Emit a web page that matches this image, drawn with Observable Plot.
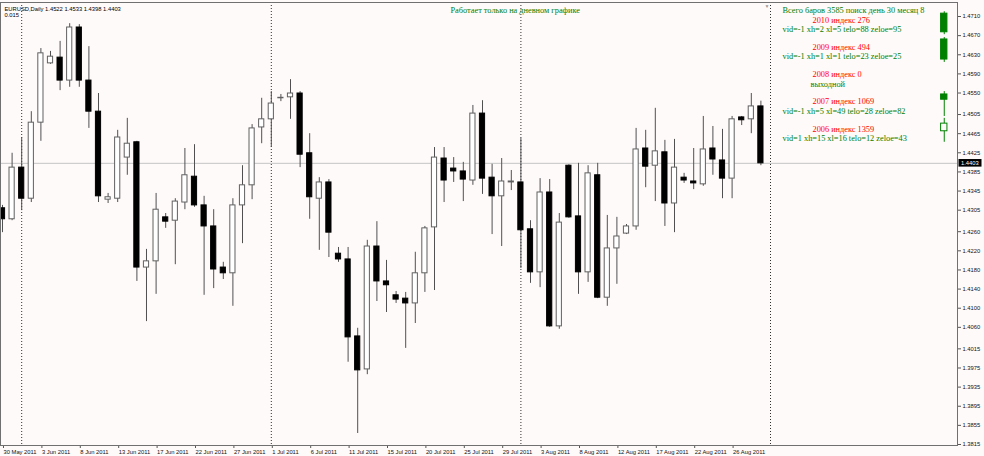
<!DOCTYPE html>
<html><head><meta charset="utf-8">
<script src="https://cdn.jsdelivr.net/npm/d3@7"></script>
<script src="https://cdn.jsdelivr.net/npm/@observablehq/plot@0.6"></script>
<style>
html,body{margin:0;padding:0;background:#fffafa;}
#chart svg{display:block;}
</style></head><body><div id="chart"></div>
<script>
// EURUSD Daily candles, bar index 0 = 30 May 2011 (Sunday bars included)
const open  = [1.4309,1.4286,1.4394,1.4329,1.4488,1.4612,1.4624,1.4576,1.4687,1.4576,1.4511,1.4327,1.4329,1.4415,1.4447,1.4185,1.4198,1.4290,1.4283,1.4321,1.4375,1.4315,1.4271,1.4185,1.4173,1.4315,1.4357,1.4478,1.4495,1.4539,1.4541,1.4549,1.4424,1.4329,1.4363,1.4214,1.4202,1.4041,1.3972,1.4229,1.4156,1.4127,1.4120,1.4110,1.4173,1.4269,1.4413,1.4392,1.4386,1.4367,1.4507,1.4373,1.4334,1.4363,1.4363,1.4265,1.4175,1.4342,1.4062,1.4398,1.4292,1.4175,1.4378,1.4122,1.4225,1.4256,1.4271,1.4434,1.4398,1.4426,1.4319,1.4373,1.4365,1.4359,1.4434,1.4409,1.4371,1.4499,1.4495,1.4522];
const high  = [1.4315,1.4424,1.4457,1.4511,1.4643,1.4637,1.4658,1.4695,1.4693,1.4647,1.4549,1.4340,1.4472,1.4497,1.4449,1.4223,1.4340,1.4298,1.4329,1.4434,1.4442,1.4334,1.4306,1.4196,1.4329,1.4398,1.4484,1.4539,1.4553,1.4547,1.4578,1.4553,1.4465,1.4373,1.4369,1.4227,1.4227,1.4058,1.4242,1.4281,1.4200,1.4135,1.4133,1.4217,1.4271,1.4436,1.4436,1.4415,1.4405,1.4524,1.4534,1.4401,1.4413,1.4388,1.4455,1.4283,1.4371,1.4369,1.4298,1.4400,1.4403,1.4398,1.4403,1.4294,1.4290,1.4275,1.4476,1.4472,1.4518,1.4451,1.4453,1.4382,1.4434,1.4501,1.4480,1.4474,1.4501,1.4501,1.4549,1.4533];
const low   = [1.4258,1.4283,1.4304,1.4321,1.4449,1.4610,1.4555,1.4562,1.4562,1.4476,1.4321,1.4319,1.4321,1.4378,1.4156,1.4072,1.4129,1.4267,1.4191,1.4306,1.4311,1.4127,1.4141,1.4160,1.4104,1.4235,1.4327,1.4444,1.4436,1.4532,1.4495,1.4394,1.4286,1.4221,1.4206,1.4196,1.3987,1.3838,1.3961,1.4114,1.4091,1.4110,1.4016,1.4068,1.4133,1.4137,1.4321,1.4363,1.4323,1.4357,1.4338,1.4254,1.4229,1.4346,1.4183,1.4152,1.4143,1.4060,1.4056,1.4288,1.4129,1.4154,1.4120,1.4104,1.4150,1.4254,1.4263,1.4352,1.4323,1.4271,1.4258,1.4361,1.4348,1.4355,1.4378,1.4329,1.4329,1.4482,1.4465,1.4398];
const close = [1.4286,1.4394,1.4329,1.4488,1.4633,1.4626,1.4576,1.4687,1.4576,1.4511,1.4334,1.4332,1.4457,1.4444,1.4185,1.4198,1.4306,1.4281,1.4323,1.4378,1.4315,1.4271,1.4181,1.4173,1.4315,1.4357,1.4476,1.4495,1.4528,1.4540,1.4549,1.4421,1.4332,1.4363,1.4258,1.4202,1.4039,1.3970,1.4229,1.4156,1.4148,1.4118,1.4110,1.4173,1.4267,1.4415,1.4367,1.4386,1.4369,1.4507,1.4371,1.4334,1.4365,1.4365,1.4263,1.4175,1.4342,1.4062,1.4279,1.4290,1.4175,1.4382,1.4122,1.4225,1.4250,1.4271,1.4432,1.4396,1.4428,1.4319,1.4394,1.4367,1.4361,1.4432,1.4411,1.4371,1.4495,1.4493,1.4522,1.4403];

// x-axis date labels (every 4 bars)
const dateLabels = ["30 May 2011","3 Jun 2011","8 Jun 2011","13 Jun 2011","17 Jun 2011","22 Jun 2011","27 Jun 2011","1 Jul 2011","6 Jul 2011","11 Jul 2011","15 Jul 2011","20 Jul 2011","25 Jul 2011","29 Jul 2011","3 Aug 2011","8 Aug 2011","12 Aug 2011","17 Aug 2011","22 Aug 2011","26 Aug 2011"];
// price axis labels
const priceLabels = [1.4710,1.4670,1.4630,1.4590,1.4550,1.4505,1.4465,1.4425,1.4385,1.4345,1.4305,1.4260,1.4220,1.4180,1.4140,1.4100,1.4060,1.4015,1.3975,1.3935,1.3895,1.3855,1.3815];
// period separators (bar index of month start)
const separators = [2, 28, 54, 80];

// same-day candles of previous years (2010, 2009, 2007, 2006)
const miniYears = [2010, 2009, 2007, 2006];
const miniOpen  = [1.4716, 1.4662, 1.4547, 1.4470];
const miniHigh  = [1.4720, 1.4666, 1.4553, 1.4497];
const miniLow   = [1.4672, 1.4614, 1.4501, 1.4447];
const miniClose = [1.4677, 1.4620, 1.4536, 1.4486];
const miniSlot = 98.1;

// texts
const symbolName = "EURUSD,Daily";
const subLabel = "0.015";
const headerTitle = "Работает только на дневном графике";
const infoLine = "Всего баров 3585 поиск день 30 месяц 8";
const yearLabels = ["2010 индекс 276","2009 индекс 494","2008 индекс 0","2007 индекс 1069","2006 индекс 1359"];
const yearDetails = ["vid=-1 xh=2 xl=5 telo=88 zeloe=95","vid=-1 xh=1 xl=1 telo=23 zeloe=25","выходной","vid=-1 xh=5 xl=49 telo=28 zeloe=82","vid=1 xh=15 xl=16 telo=12 zeloe=43"];

const bars = open.map((o, i) => ({i, o, h: high[i], l: low[i], c: close[i]}));
const minis = miniYears.map((yr, k) => ({yr, x: miniSlot, o: miniOpen[k], h: miniHigh[k], l: miniLow[k], c: miniClose[k]}));
const last = bars[bars.length - 1];
const f4 = v => v.toFixed(4);

const GREEN = "#008000", RED = "#ff0000", BG = "#fffafa";
const serif = "Liberation Serif, Times New Roman, serif";
const sans = "Liberation Sans, Arial, sans-serif";
const bw = 0.27;

const textMarks = [];
const tAt = (txt, dx, dy, fill, size, family) => Plot.text([txt], {
  text: d => d, frameAnchor: "top-left", dx, dy, fill, textAnchor: "start",
  fontSize: size, fontFamily: family
});
textMarks.push(tAt(`${symbolName} ${f4(last.o)} ${f4(last.h)} ${f4(last.l)} ${f4(last.c)}`, 4, 4, "#000", 5.8, sans));
textMarks.push(tAt(subLabel, 4, 10.5, "#000", 5.8, sans));
textMarks.push(tAt(headerTitle, 450, 5, GREEN, 8.3, serif));
textMarks.push(tAt(infoLine, 782, 5, GREEN, 8.3, serif));
yearLabels.forEach((t, k) => {
  const yy = 14.3 + 27.2 * k;
  textMarks.push(tAt(t, 812, yy, RED, 8.3, serif));
  textMarks.push(tAt(yearDetails[k], yearDetails[k].startsWith("vid") ? 782 : 810, yy + 9.5, GREEN, 8.3, serif));
});
textMarks.push(tAt("▼", 764, 1.5, "#999", 5, sans));

const plot = Plot.plot({
  width: 984, height: 456,
  marginLeft: 0, marginRight: 27, marginTop: 2, marginBottom: 11,
  style: {background: BG, fontFamily: sans, fontSize: "5.8px", color: "#000", overflow: "visible"},
  x: {domain: [-0.2083, 99.479], axis: null},
  y: {domain: [1.38129, 1.47393], axis: null},
  marks: [
    Plot.ruleY([last.c], {stroke: "#c4c4c4"}),
    Plot.ruleX(separators, {stroke: "#303030", strokeDasharray: "1,2"}),
    Plot.ruleX(bars, {x: "i", y1: "l", y2: "h", stroke: "#505050"}),
    Plot.rect(bars, {
      x1: d => d.i - bw, x2: d => d.i + bw, y1: "o", y2: "c",
      fill: d => d.c >= d.o ? "#ffffff" : "#000000",
      stroke: d => d.c >= d.o ? "#606060" : "#000000"
    }),
    Plot.ruleX(minis, {x: "x", y1: "l", y2: "h", stroke: GREEN}),
    Plot.rect(minis, {
      x1: d => d.x - 0.33, x2: d => d.x + 0.33, y1: "o", y2: "c",
      fill: d => d.c >= d.o ? BG : GREEN, stroke: GREEN
    }),
    Plot.axisX(dateLabels.map((_, k) => k * 4), {
      anchor: "bottom", tickSize: 3, tickPadding: 1.2, textAnchor: "start", dx: 1,
      tickFormat: d => dateLabels[d / 4], stroke: "#555", fill: "#111", fontSize: 5.8
    }),
    Plot.axisY(priceLabels, {
      anchor: "right", tickSize: 3, tickPadding: 2,
      tickFormat: f4, stroke: "#555", fill: "#111", fontSize: 5.8
    }),
    Plot.frame({stroke: "#707070"}),
    ...textMarks
  ]
});

document.getElementById("chart").appendChild(plot);

// current price label box on the price axis
const svg = d3.select(plot);
const yPx = plot.scale("y").apply(last.c);
const xRight = plot.scale("x").apply(99.479);
const g = svg.append("g");
g.append("rect").attr("x", xRight + 1.5).attr("y", yPx - 3.8).attr("width", 23).attr("height", 7.6).attr("fill", "#000");
g.append("text").attr("x", xRight + 4).attr("y", yPx).attr("dy", "0.35em")
  .attr("text-anchor", "start")
  .attr("fill", "#fff").attr("font-size", 5.8).attr("font-family", sans).text(f4(last.c));
</script>
</body></html>
